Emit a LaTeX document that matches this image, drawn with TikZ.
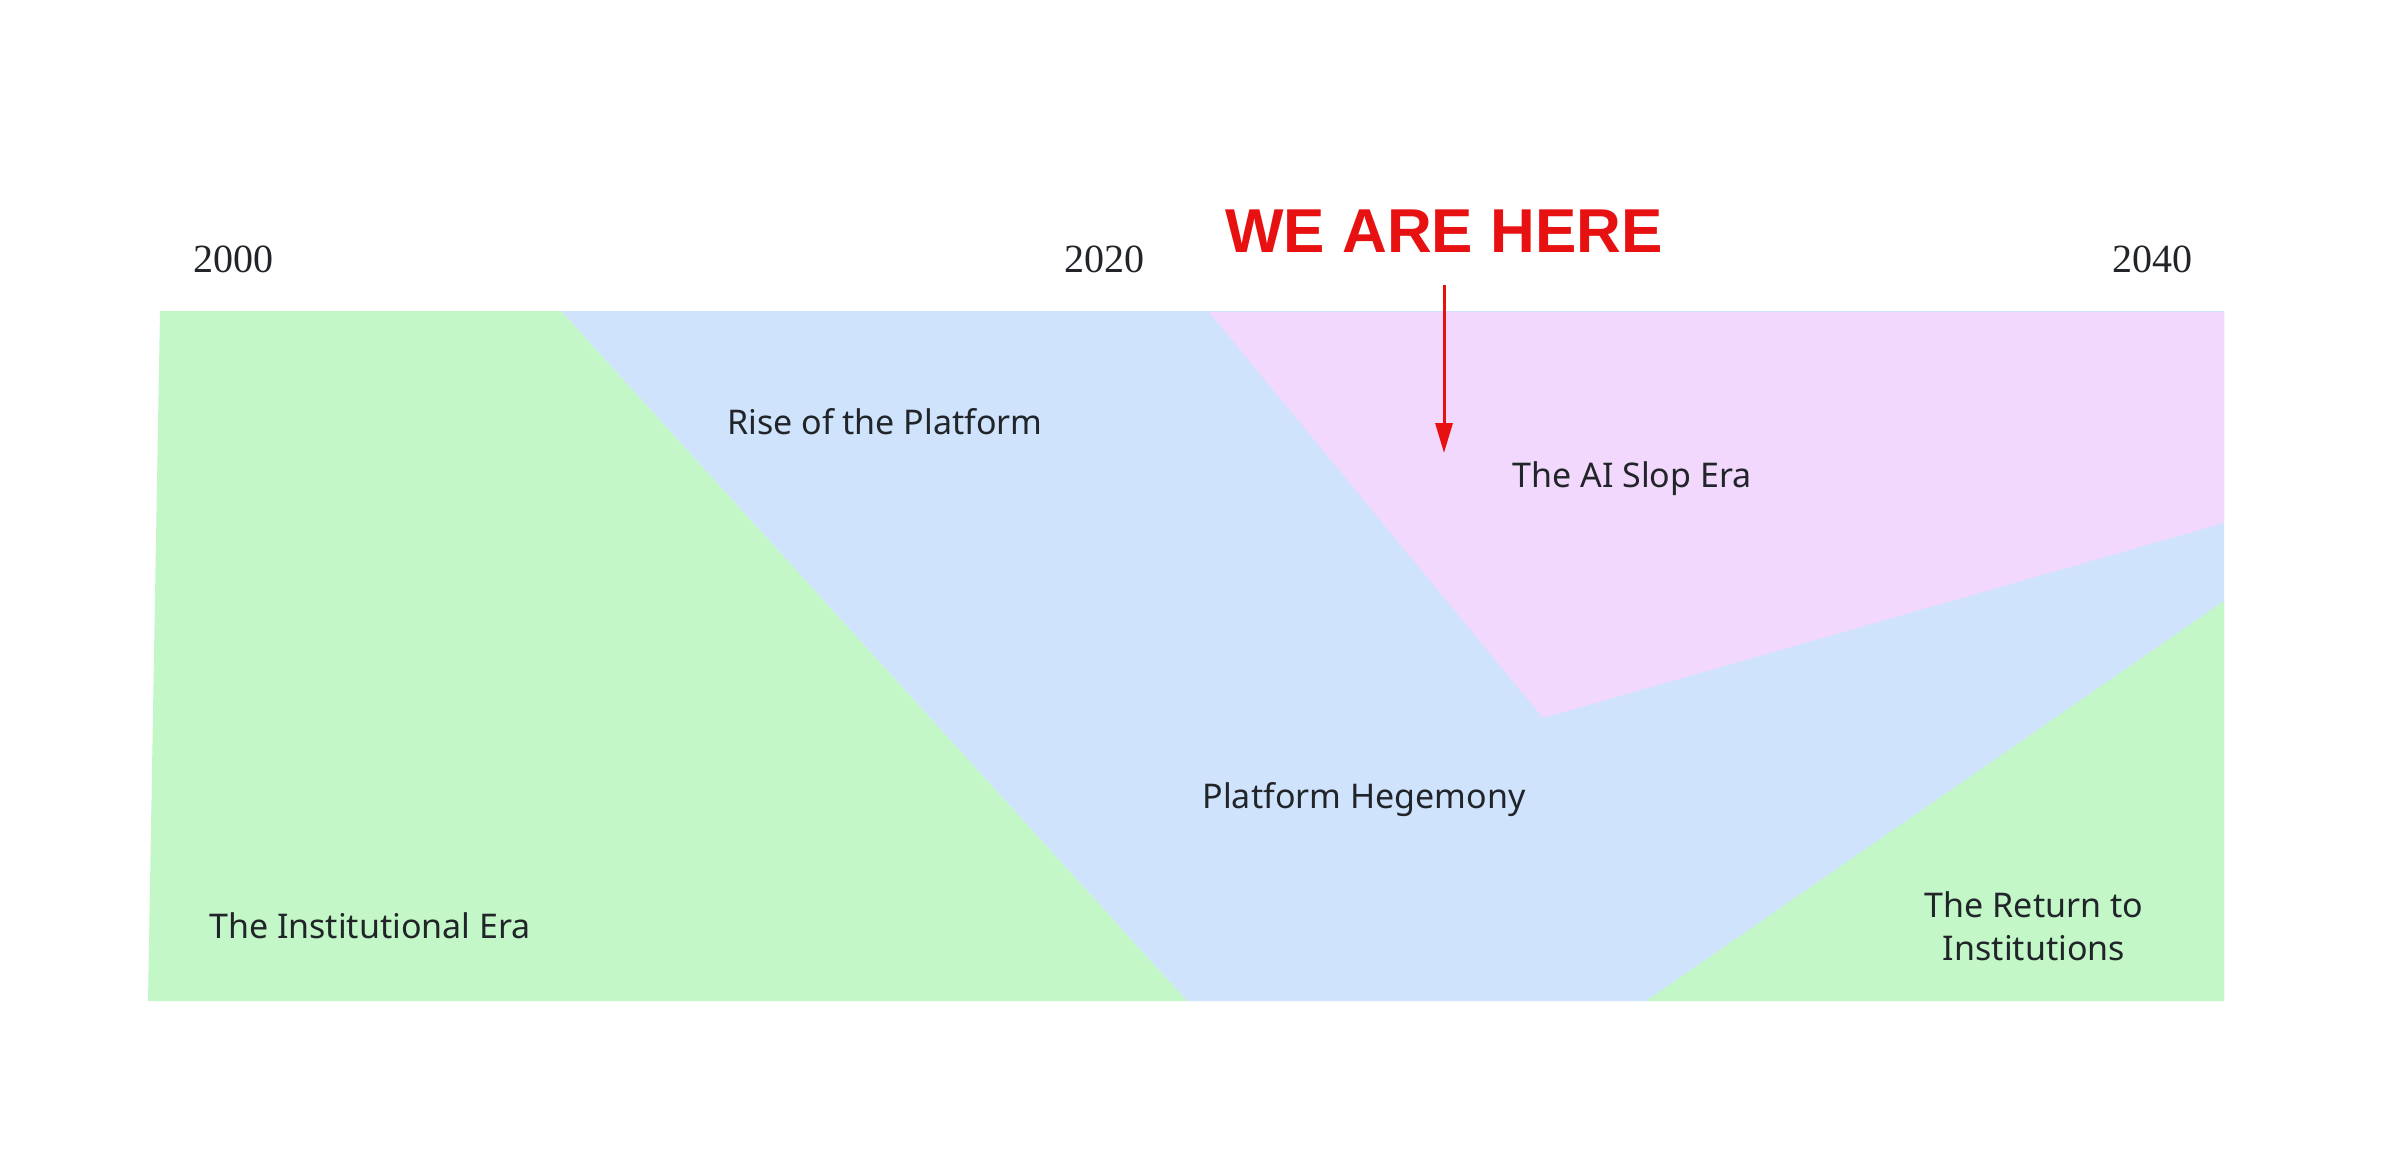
\documentclass[tikz,border=0pt]{standalone}
\usepackage{fontspec}
\setmainfont{Noto Sans}
\newfontfamily\yearfont{Liberation Serif}
\newfontfamily\boldfont{Liberation Sans}
\usetikzlibrary{arrows.meta}
\definecolor{eragreen}{RGB}{195,247,200}
\definecolor{erablue}{RGB}{207,227,252}
\definecolor{erapink}{RGB}{242,216,252}
\definecolor{herered}{RGB}{232,17,17}
\definecolor{labelink}{RGB}{33,37,41}
\tikzset{
  region/.style={draw=none},
  yearlabel/.style={font=\yearfont\fontsize{40}{48}\selectfont, text=labelink, inner sep=0pt},
  eralabel/.style={font=\fontsize{34}{43}\selectfont, text=labelink, inner sep=0pt, align=center},
  herelabel/.style={font=\boldfont\bfseries\fontsize{62}{70}\selectfont, text=herered, inner sep=0pt},
  herearrow/.style={draw=herered, line width=3pt, -{Triangle[width=17pt,length=30pt]}}
}
\begin{document}
\begin{tikzpicture}[x=1pt,y=-1pt]
\useasboundingbox[fill=white] (0,0) rectangle (2400,1149);
% regions
\fill[erablue, region] (561,311) -- (2224,311) -- (2224,1001) -- (1187,1001) -- cycle;
\fill[eragreen, region] (160,311) -- (561,311) -- (1187,1001) -- (148,1001) -- cycle;
\fill[erapink, region] (1209,312) -- (2224,312) -- (2224,523) -- (1543,718) -- cycle;
\fill[eragreen, region] (2224,601) -- (2224,1001) -- (1646,1001) -- cycle;
% years
\node[yearlabel] (y2000) at (233,259) {2000};
\node[yearlabel] (y2020) at (1104,259) {2020};
\node[yearlabel] (y2040) at (2152,259) {2040};
% marker
\node[herelabel] (here) at (1444,231) {WE ARE HERE};
\coordinate (arrowstart) at (1444,285);
\coordinate (arrowend) at (1444,453);
\draw[herearrow] (arrowstart) -- (arrowend);
% era labels
\node[eralabel] (rise) at (885,422) {Rise of the Platform};
\node[eralabel] (slop) at (1632,479) {The AI Slop Era};
\node[eralabel] (hegemony) at (1364,800) {Platform Hegemony};
\node[eralabel] (institutional) at (370,926) {The Institutional Era};
\node[eralabel] (return) at (2034,926) {The Return to\\Institutions};
\end{tikzpicture}
\end{document}
